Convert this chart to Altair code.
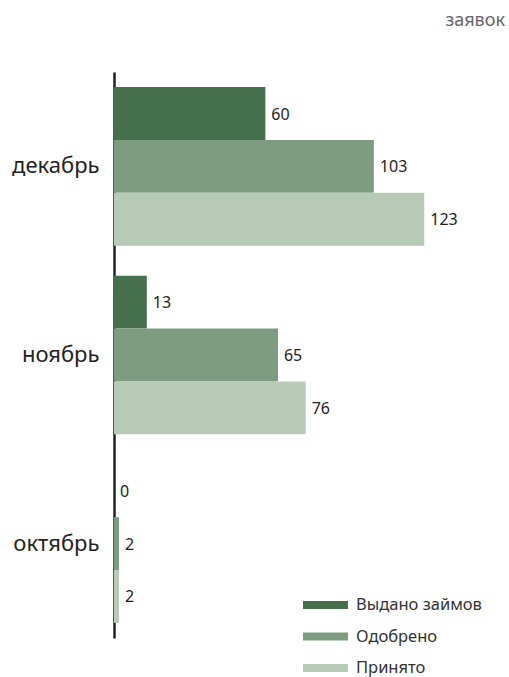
import altair as alt
import pandas as pd

# Monthly application counts per stage
months = ["декабрь", "ноябрь", "октябрь"]
series = ["Выдано займов", "Одобрено", "Принято"]
issued = [60, 13, 0]
approved = [103, 65, 2]
received = [123, 76, 2]
colors = ["#466f4b", "#7d9b7e", "#b6cab6"]

rows = []
for i, m in enumerate(months):
    for s, vals in zip(series, [issued, approved, received]):
        rows.append({"month": m, "stage": s, "value": vals[i]})
df = pd.DataFrame(rows)

FONT = "Noto Sans"

y_enc = alt.Y(
    "month:N",
    sort=months,
    scale=alt.Scale(paddingInner=0.159, paddingOuter=0.08),
    axis=alt.Axis(
        title=None,
        ticks=False,
        domain=True,
        domainColor="#222222",
        domainWidth=2.5,
        labelFont=FONT,
        labelFontSize=22,
        labelColor="#222222",
        labelPadding=15,
    ),
)
y_off = alt.YOffset("stage:N", sort=series, scale=alt.Scale(paddingInner=0, paddingOuter=0))
x_enc = alt.X("value:Q", scale=alt.Scale(domain=[0, 155]), axis=None)

# wide flat swatch; path drawn larger than the nominal symbol box so rows stay compact
swatch = "M-2.25,-0.4L2.25,-0.4L2.25,0.4L-2.25,0.4Z"

bars = alt.Chart(df).mark_bar(cornerRadius=0).encode(
    y=y_enc,
    yOffset=y_off,
    x=x_enc,
    color=alt.Color(
        "stage:N",
        sort=series,
        scale=alt.Scale(domain=series, range=colors),
        legend=alt.Legend(
            title=None,
            orient="none",
            legendX=201.5,
            legendY=523,
            symbolType=swatch,
            symbolSize=400,
            symbolStrokeWidth=0,
            symbolOpacity=1,
            labelFont=FONT,
            labelFontSize=16.5,
            labelColor="#333333",
            labelOffset=20.5,
            rowPadding=12.5,
        ),
    ),
)

labels = alt.Chart(df).mark_text(
    align="left", baseline="middle", dx=6, dy=1, font=FONT, fontSize=16, color="#222222"
).encode(
    y=alt.Y("month:N", sort=months),
    yOffset=y_off,
    x=x_enc,
    text="value:Q",
)

chart = (
    alt.layer(bars, labels)
    .properties(
        width=391,
        height=566,
        title=alt.TitleParams(
            "заявок",
            anchor="end",
            font=FONT,
            fontSize=18,
            fontWeight="normal",
            color="#666666",
            offset=42,
        ),
        autosize=alt.AutoSizeParams(type="none"),
        padding={"left": 114, "top": 72, "right": 4, "bottom": 39},
    )
    .configure_view(stroke=None)
)

chart.save("out.html", embed_options={"renderer": "svg", "actions": False})
